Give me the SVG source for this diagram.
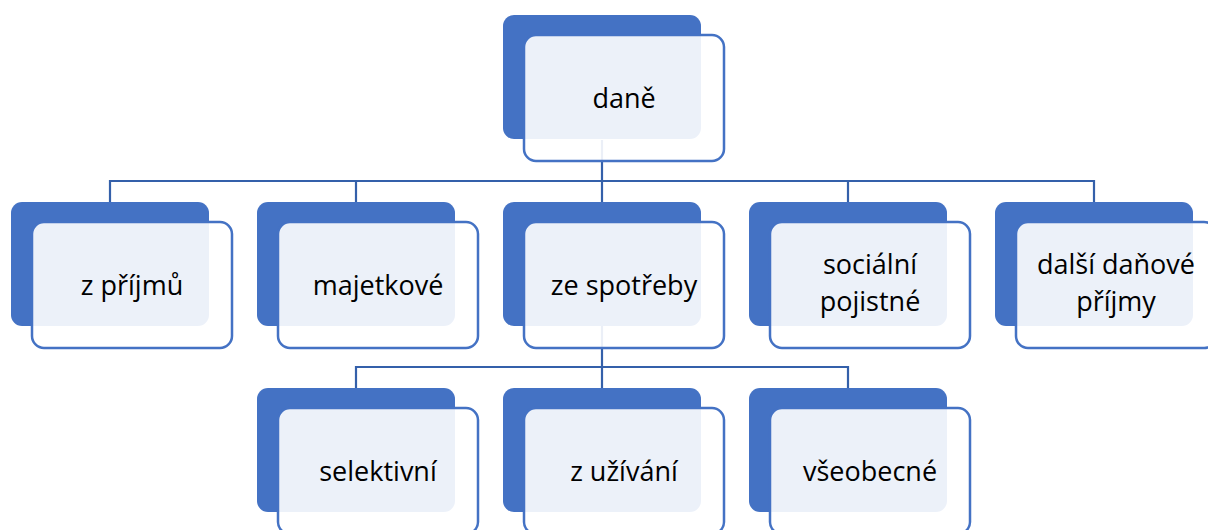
<svg xmlns="http://www.w3.org/2000/svg" width="1208" height="530" viewBox="0 0 1208 530">
<style>
.back{fill:#4472C4}
.front{fill:#FFFFFF;fill-opacity:0.9;stroke:#4472C4;stroke-width:2.5}
.lbl{font-family:"Open Sans","Noto Sans",sans-serif;font-size:27px;fill:#000;text-anchor:middle}
.conn{fill:none;stroke:#3460AA;stroke-width:2.2}
</style>
<rect width="1208" height="530" fill="#FFFFFF"/>
<g id="connectors">
<path class="conn" d="M602 140V181M110 202V181H1094V202M356 181V202M602 181V202M848 181V202"/>
<path class="conn" d="M602 326V367M356 388V367H848V388M602 367V388"/>
</g>
<g id="node-dane">
<rect class="back" x="503" y="15" width="198" height="124" rx="11"/>
<rect class="front" x="524" y="35" width="200" height="126" rx="12"/>
<text class="lbl" x="624" y="108">daně</text>
</g>
<g id="node-z-prijmu">
<rect class="back" x="11" y="202" width="198" height="124" rx="11"/>
<rect class="front" x="32" y="222" width="200" height="126" rx="12"/>
<text class="lbl" x="132" y="295">z příjmů</text>
</g>
<g id="node-majetkove">
<rect class="back" x="257" y="202" width="198" height="124" rx="11"/>
<rect class="front" x="278" y="222" width="200" height="126" rx="12"/>
<text class="lbl" x="378" y="295">majetkové</text>
</g>
<g id="node-ze-spotreby">
<rect class="back" x="503" y="202" width="198" height="124" rx="11"/>
<rect class="front" x="524" y="222" width="200" height="126" rx="12"/>
<text class="lbl" x="624" y="295">ze spotřeby</text>
</g>
<g id="node-socialni">
<rect class="back" x="749" y="202" width="198" height="124" rx="11"/>
<rect class="front" x="770" y="222" width="200" height="126" rx="12"/>
<text class="lbl" x="870" y="274">sociální<tspan x="870" dy="37">pojistné</tspan></text>
</g>
<g id="node-dalsi">
<rect class="back" x="995" y="202" width="198" height="124" rx="11"/>
<rect class="front" x="1016" y="222" width="200" height="126" rx="12"/>
<text class="lbl" x="1116" y="274">další daňové<tspan x="1116" dy="37">příjmy</tspan></text>
</g>
<g id="node-selektivni">
<rect class="back" x="257" y="388" width="198" height="124" rx="11"/>
<rect class="front" x="278" y="408" width="200" height="126" rx="12"/>
<text class="lbl" x="378" y="481">selektivní</text>
</g>
<g id="node-z-uzivani">
<rect class="back" x="503" y="388" width="198" height="124" rx="11"/>
<rect class="front" x="524" y="408" width="200" height="126" rx="12"/>
<text class="lbl" x="624" y="481">z užívání</text>
</g>
<g id="node-vseobecne">
<rect class="back" x="749" y="388" width="198" height="124" rx="11"/>
<rect class="front" x="770" y="408" width="200" height="126" rx="12"/>
<text class="lbl" x="870" y="481">všeobecné</text>
</g>
</svg>
